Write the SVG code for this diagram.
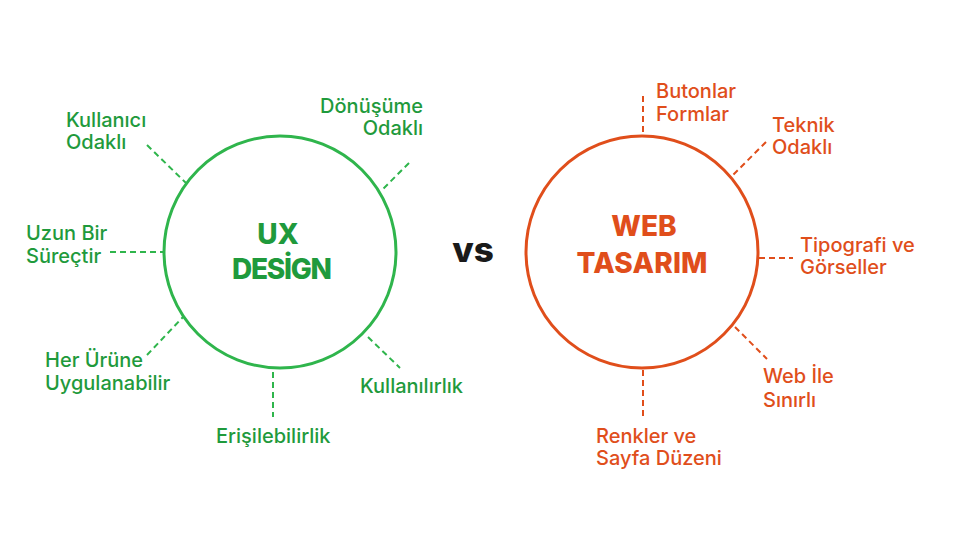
<svg xmlns="http://www.w3.org/2000/svg" width="960" height="540" viewBox="0 0 960 540">
<style>
.g{fill:#1f9a3c}
.o{fill:#e04e1b}
.lbl{font-family:Inter,"Noto Sans",sans-serif;font-weight:500;font-size:20px}
.ttl{font-family:Inter,"Noto Sans",sans-serif;font-weight:800;font-size:28px;text-anchor:middle}
.gl{stroke:#2fb54c;stroke-width:2;stroke-dasharray:6 4;fill:none}
.ol{stroke:#e04e1b;stroke-width:2;stroke-dasharray:6 4;fill:none}
</style>
<rect width="960" height="540" fill="#ffffff"/>
<g id="connectors">
<line class="gl" x1="147" y1="145" x2="186" y2="183"/>
<line class="gl" x1="409" y1="163" x2="382" y2="190"/>
<line class="gl" x1="110" y1="252" x2="164" y2="252"/>
<line class="gl" x1="147" y1="355" x2="183" y2="317"/>
<line class="gl" x1="273" y1="372" x2="273" y2="417"/>
<line class="gl" x1="368" y1="337" x2="400" y2="368"/>
<line class="ol" x1="643" y1="96" x2="643" y2="135"/>
<line class="ol" x1="766" y1="142" x2="733" y2="175"/>
<line class="ol" x1="759" y1="258" x2="793" y2="258"/>
<line class="ol" x1="735" y1="327" x2="767" y2="359"/>
<line class="ol" x1="643" y1="370" x2="643" y2="417"/>
</g>
<g id="ux-design">
<circle cx="280" cy="252" r="116" fill="none" stroke="#2fb54c" stroke-width="3"/>
<text class="ttl g" x="278" y="244">UX</text>
<text class="ttl g" x="282" y="279" textLength="100">DESİGN</text>
</g>
<g id="vs">
<text x="473" y="262" font-family="Inter,'Noto Sans',sans-serif" font-weight="800" font-size="35" text-anchor="middle" fill="#1a1a1a">vs</text>
</g>
<g id="web-tasarim">
<circle cx="642" cy="252" r="116" fill="none" stroke="#e04e1b" stroke-width="3"/>
<text class="ttl o" x="644" y="236">WEB</text>
<text class="ttl o" x="642" y="273" textLength="131">TASARIM</text>
</g>
<g id="kullanici-odakli"><text class="lbl g" x="66" y="127">Kullanıcı</text><text class="lbl g" x="66" y="149">Odaklı</text></g>
<g id="donusume-odakli"><text class="lbl g" x="423" y="113" text-anchor="end">Dönüşüme</text><text class="lbl g" x="423" y="135" text-anchor="end">Odaklı</text></g>
<g id="uzun-bir-surectir"><text class="lbl g" x="26" y="240">Uzun Bir</text><text class="lbl g" x="26" y="263">Süreçtir</text></g>
<g id="her-urune"><text class="lbl g" x="45" y="367">Her Ürüne</text><text class="lbl g" x="45" y="390">Uygulanabilir</text></g>
<g id="erisilebilirlik"><text class="lbl g" x="216" y="443">Erişilebilirlik</text></g>
<g id="kullanilirlik"><text class="lbl g" x="360" y="393">Kullanılırlık</text></g>
<g id="butonlar-formlar"><text class="lbl o" x="656" y="98">Butonlar</text><text class="lbl o" x="656" y="121">Formlar</text></g>
<g id="teknik-odakli"><text class="lbl o" x="772" y="132">Teknik</text><text class="lbl o" x="772" y="154">Odaklı</text></g>
<g id="tipografi"><text class="lbl o" x="800" y="252">Tipografi ve</text><text class="lbl o" x="800" y="274">Görseller</text></g>
<g id="web-ile-sinirli"><text class="lbl o" x="763" y="383">Web İle</text><text class="lbl o" x="763" y="407">Sınırlı</text></g>
<g id="renkler-sayfa"><text class="lbl o" x="596" y="443">Renkler ve</text><text class="lbl o" x="596" y="465">Sayfa Düzeni</text></g>
</svg>
